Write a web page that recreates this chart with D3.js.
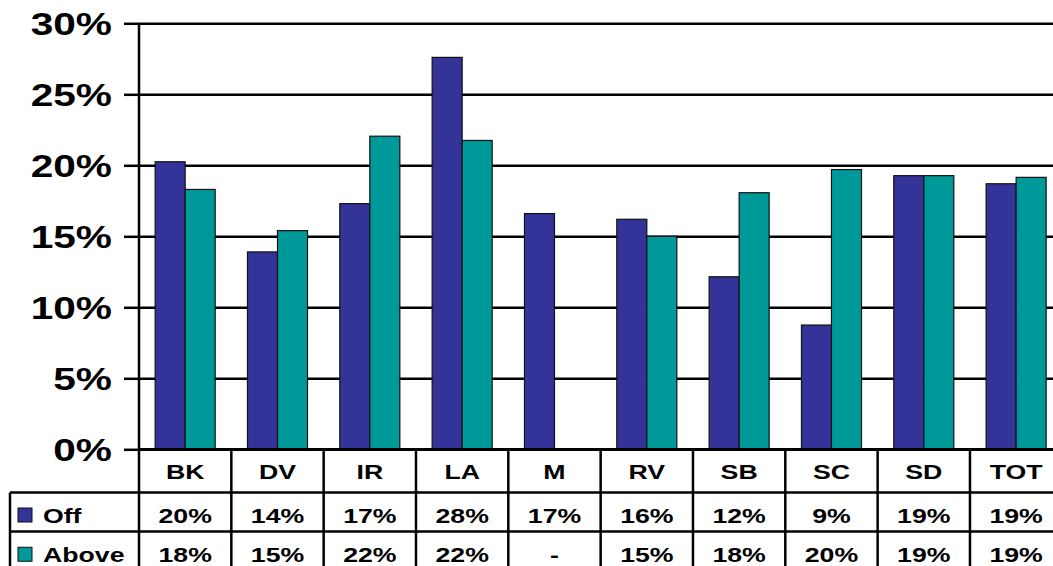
<!DOCTYPE html>
<html lang="en">
  <head>
    <meta charset="UTF-8" />
    <title>Off vs. Above by district</title>
    <script src="https://d3js.org/d3.v7.min.js"></script>
    <style>
      body {
        margin: 0;
        background: #fff;
      }
      text {
        font-family: "Liberation Sans", Arial, sans-serif;
        font-weight: bold;
        fill: #000;
      }
    </style>
  </head>

  <body>
    <svg id="chart" width="1053" height="566"></svg>
    <script>
      const categories = ["BK", "DV", "IR", "LA", "M", "RV", "SB", "SC", "SD", "TOT"];
      const seriesNames = ["Off", "Above"];
      const offValues = [20.25, 13.9, 17.3, 27.6, 16.6, 16.2, 12.15, 8.75, 19.27, 18.7];
      const aboveValues = [18.3, 15.4, 22.05, 21.75, null, 15.0, 18.07, 19.7, 19.27, 19.15];
      const yTicks = [0, 5, 10, 15, 20, 25, 30];
      const colors = { Off: "#333399", Above: "#009999" };

      const svg = d3.select("#chart");
      const stretch = 1.27; // the source text is wider than normal

      const plot = { left: 139, right: 1062.3, top: 23.3, bottom: 449.3 };
      const rowLines = [449.3, 492.5, 531.5, 571];

      const x = d3
        .scaleBand()
        .domain(categories)
        .range([plot.left, plot.right])
        .paddingInner(0.35)
        .paddingOuter(0.175);

      const x1 = d3.scaleBand().domain(seriesNames).range([0, x.bandwidth()]);

      const y = d3.scaleLinear().domain([0, 30]).range([plot.bottom, plot.top]);

      const step = x.step();
      const cellStart = (c) => x(c) - step * 0.175;

      // gridlines
      svg
        .append("g")
        .attr("transform", `translate(${plot.left},0)`)
        .call(
          d3.axisLeft(y).tickValues(yTicks).tickSize(-(plot.right - plot.left)).tickFormat("")
        )
        .call((g) => g.select(".domain").remove())
        .call((g) => g.selectAll("line").attr("stroke", "#000").attr("stroke-width", 2.5));

      // tick marks + labels
      const yAxis = svg
        .append("g")
        .attr("transform", `translate(${plot.left},0)`)
        .call(d3.axisLeft(y).tickValues(yTicks).tickSize(15).tickSizeOuter(0).tickPadding(12).tickFormat((d) => d + "%"));
      yAxis.select(".domain").remove();
      yAxis.selectAll("line").attr("stroke", "#000").attr("stroke-width", 2.5);
      yAxis
        .selectAll("text")
        .attr("font-size", 32)
        .attr("font-family", "Liberation Sans, Arial, sans-serif")
        .attr("font-weight", "bold")
        .attr("fill", "#000")
        .attr("dy", "0.36em")
        .attr("transform", function () {
          const tx = +d3.select(this).attr("x");
          return `translate(${tx},0) scale(${stretch},1) translate(${-tx},0)`;
        });

      // bars
      const data = categories.map((c, i) => ({
        cat: c,
        vals: [
          { key: "Off", value: offValues[i] },
          { key: "Above", value: aboveValues[i] },
        ],
      }));

      svg
        .append("g")
        .selectAll("g")
        .data(data)
        .join("g")
        .attr("transform", (d) => `translate(${x(d.cat)},0)`)
        .selectAll("rect")
        .data((d) => d.vals.filter((v) => v.value != null))
        .join("rect")
        .attr("x", (d) => x1(d.key))
        .attr("y", (d) => y(d.value))
        .attr("width", x1.bandwidth())
        .attr("height", (d) => y(0) - y(d.value))
        .attr("fill", (d) => colors[d.key])
        .attr("stroke", "#111")
        .attr("stroke-width", 1.2);

      // y axis line, runs down through the table
      svg
        .append("line")
        .attr("x1", plot.left)
        .attr("x2", plot.left)
        .attr("y1", plot.top)
        .attr("y2", 566)
        .attr("stroke", "#000")
        .attr("stroke-width", 2.5);

      // data table
      const table = svg.append("g").attr("stroke", "#000").attr("stroke-width", 2.5);

      table
        .selectAll(".row-line")
        .data(rowLines)
        .join("line")
        .attr("x1", (d, i) => (i === 0 ? plot.left : 10))
        .attr("x2", plot.right)
        .attr("y1", (d) => d)
        .attr("y2", (d) => d);

      table
        .selectAll(".col-line")
        .data(categories)
        .join("line")
        .attr("x1", (d) => cellStart(d) + step)
        .attr("x2", (d) => cellStart(d) + step)
        .attr("y1", plot.bottom)
        .attr("y2", 566);

      table
        .append("line")
        .attr("x1", 10)
        .attr("x2", 10)
        .attr("y1", rowLines[1])
        .attr("y2", 566);

      const fmt = (v) => (v == null ? "-" : d3.format(".0f")(v) + "%");

      const addText = (tx, ty, str, size, anchor) => {
        svg
          .append("text")
          .attr("transform", `translate(${tx},${ty}) scale(${stretch},1)`)
          .attr("text-anchor", anchor)
          .attr("dy", "0.36em")
          .attr("font-size", size)
          .text(str);
      };

      const rowMid = (r) => (rowLines[r] + rowLines[r + 1]) / 2;

      categories.forEach((c, i) => {
        const cx = cellStart(c) + step / 2;
        addText(cx, rowMid(0) + 1, c, 21, "middle");
        addText(cx, rowMid(1) + 3, fmt(offValues[i]), 21, "middle");
        addText(cx, rowMid(2) + 3, fmt(aboveValues[i]), 21, "middle");
      });

      // legend keys in the table
      seriesNames.forEach((s, i) => {
        const ym = rowMid(i + 1) + 3;
        svg
          .append("rect")
          .attr("x", 18)
          .attr("y", ym - 7)
          .attr("width", 14)
          .attr("height", 14)
          .attr("fill", colors[s])
          .attr("stroke", "#111")
          .attr("stroke-width", 1);
        addText(43, ym, s, 21, "start");
      });
    </script>
  </body>
</html>
